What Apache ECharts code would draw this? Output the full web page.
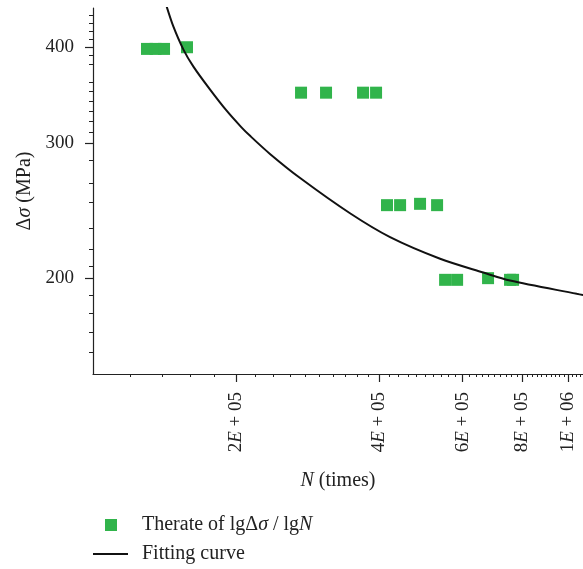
<!DOCTYPE html>
<html>
<head>
<meta charset="utf-8">
<script src="https://cdn.jsdelivr.net/npm/echarts@6/dist/echarts.min.js"></script>
<style>
html,body{margin:0;padding:0;background:#fff;}
#chart{width:583px;height:569px;}
</style>
</head>
<body>
<div id="chart"></div>
<script>
// 试验点 (N, Δσ)
var pointN = [1.299e5, 1.354e5, 1.411e5, 1.577e5,
	2.741e5, 3.094e5, 3.702e5, 3.943e5,
	4.158e5, 4.43e5, 4.88e5, 5.30e5,
	5.51e5, 5.84e5, 6.785e5, 7.548e5, 7.66e5];
var pointS = [398, 398, 398, 400,
	349, 349, 349, 349,
	249, 249, 250, 249,
	199, 199, 200, 199, 199];

// 拟合曲线 (读图取点)
var curveN = [1.429e5, 1.476e5, 1.550e5, 1.627e5, 1.764e5, 1.911e5, 2.049e5, 2.141e5, 2.358e5,
	2.729e5, 3.475e5, 4.220e5, 5.378e5, 6.631e5, 7.548e5, 1.043e6, 1.0755e6];
var curveS = [452, 425.8, 397.2, 377.4, 352.2, 330.6, 315.0, 306.6, 290.4,
	270.1, 243.0, 226.2, 212.0, 203.4, 198.6, 190.8, 190.1];

// 坐标轴刻度
var xTicks = [2e5, 4e5, 6e5, 8e5, 1e6];
var xTickLabels = ['2E + 05', '4E + 05', '6E + 05', '8E + 05', '1E + 06'];
var xMinorTicks = [];
for (var t = 1.2e5; t < 1.07e6; t += 2e4) {
	var isMajor = false;
	for (var k = 0; k < xTicks.length; k++) {
		if (Math.abs(xTicks[k] - t) < 1) isMajor = true;
	}
	if (!isMajor) xMinorTicks.push(t);
}
var yTicks = [200, 300, 400];
var yTickLabels = ['200', '300', '400'];
var yMinorTicks = [440, 430, 420, 410, 390, 380, 360, 350, 340, 330, 320, 310,
	285, 266, 251, 232, 218, 207, 190, 180, 170, 160];

var xMin = 1e5, xMax = 1.075e6;
var yMin = 150, yMax = 450;

var scatterName = 'Therate of lgΔσ / lgN';
var curveName = 'Fitting curve';

function lg(v){ return Math.log10(v); }
function lgList(arr){
	var out = [];
	for (var i = 0; i < arr.length; i++) out.push(lg(arr[i]));
	return out;
}
function pairs(a, b){
	var out = [];
	for (var i = 0; i < a.length; i++) out.push([lg(a[i]), lg(b[i])]);
	return out;
}
function findLabel(ticks, labels, v){
	for (var i = 0; i < ticks.length; i++) {
		if (Math.abs(lg(ticks[i]) - v) < 1e-6) return labels[i];
	}
	return '';
}

var font = 'Liberation Serif';
var axisColor = '#222';
var italic = { fontFamily: font, fontSize: 20, fontStyle: 'italic', color: axisColor };

var myChart = echarts.init(document.getElementById('chart'));
var option = {
	backgroundColor: '#fff',
	animation: false,
	textStyle: { fontFamily: font, color: axisColor },
	grid: { left: 93, right: 0, top: 8, bottom: 195, containLabel: false },
	legend: [
		{
			left: 105,
			top: 515,
			padding: 0,
			itemWidth: 12,
			itemHeight: 12,
			data: [{ name: scatterName, icon: 'rect' }],
			formatter: function(){
				return '{p| }Therate of lgΔ{i|σ} / lg{i|N}';
			},
			textStyle: {
				fontFamily: font, fontSize: 20, color: axisColor,
				rich: { i: italic, p: { width: 20, fontSize: 20 } }
			}
		},
		{
			left: 93,
			top: 544,
			padding: 0,
			itemWidth: 35,
			itemHeight: 2,
			data: [{ name: curveName, icon: 'rect' }],
			formatter: function(name){
				return '{p| }' + name;
			},
			textStyle: {
				fontFamily: font, fontSize: 20, color: axisColor,
				rich: { p: { width: 9, fontSize: 20 } }
			}
		}
	],
	xAxis: [
		{
			type: 'value',
			min: lg(xMin),
			max: lg(xMax),
			name: '{i|N} (times)',
			nameLocation: 'middle',
			nameGap: 97,
			nameTextStyle: { fontFamily: font, fontSize: 20, color: axisColor, rich: { i: italic } },
			position: 'bottom',
			axisLine: { show: true, lineStyle: { color: axisColor, width: 1.2 } },
			axisTick: { show: true, length: 8, customValues: lgList(xTicks), lineStyle: { color: axisColor, width: 1.2 } },
			axisLabel: {
				customValues: lgList(xTicks),
				rotate: 90,
				margin: 18,
				fontFamily: font,
				fontSize: 19,
				color: axisColor,
				formatter: function(v){
					return findLabel(xTicks, xTickLabels, v).replace('E', '{e|E}');
				},
				rich: { e: { fontFamily: font, fontSize: 19, fontStyle: 'italic', color: axisColor } }
			},
			splitLine: { show: false }
		},
		{
			type: 'value',
			min: lg(xMin),
			max: lg(xMax),
			position: 'bottom',
			axisLine: { show: false },
			axisTick: { show: true, length: 3, customValues: lgList(xMinorTicks), lineStyle: { color: axisColor, width: 1 } },
			axisLabel: { show: false },
			splitLine: { show: false }
		}
	],
	yAxis: [
		{
			type: 'value',
			min: lg(yMin),
			max: lg(yMax),
			name: 'Δ{i|σ} (MPa)',
			nameLocation: 'middle',
			nameRotate: 90,
			nameGap: 58,
			nameTextStyle: { fontFamily: font, fontSize: 20, color: axisColor, rich: { i: italic } },
			axisLine: { show: true, lineStyle: { color: axisColor, width: 1.2 } },
			axisTick: { show: true, length: 8, customValues: lgList(yTicks), lineStyle: { color: axisColor, width: 1.2 } },
			axisLabel: {
				customValues: lgList(yTicks),
				margin: 19,
				fontFamily: font,
				fontSize: 19,
				color: axisColor,
				formatter: function(v){
					return findLabel(yTicks, yTickLabels, v);
				}
			},
			splitLine: { show: false }
		},
		{
			type: 'value',
			min: lg(yMin),
			max: lg(yMax),
			position: 'left',
			axisLine: { show: false },
			axisTick: { show: true, length: 4, customValues: lgList(yMinorTicks), lineStyle: { color: axisColor, width: 1 } },
			axisLabel: { show: false },
			splitLine: { show: false }
		}
	],
	series: [
		{
			name: scatterName,
			type: 'scatter',
			xAxisIndex: 0,
			yAxisIndex: 0,
			symbol: 'rect',
			symbolSize: 12,
			itemStyle: { color: '#31b44b', opacity: 1 },
			data: pairs(pointN, pointS)
		},
		{
			name: curveName,
			type: 'line',
			xAxisIndex: 0,
			yAxisIndex: 0,
			symbol: 'none',
			smooth: 0.3,
			lineStyle: { color: '#111', width: 2 },
			itemStyle: { color: '#111' },
			data: pairs(curveN, curveS)
		}
	]
};
myChart.setOption(option);
</script>
</body>
</html>
